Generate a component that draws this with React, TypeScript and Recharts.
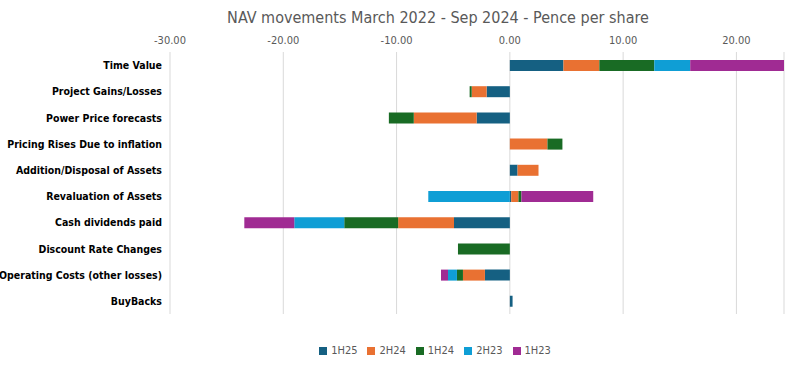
import React from "react";
import {
  BarChart,
  Bar,
  XAxis,
  YAxis,
  CartesianGrid,
  Legend,
} from "recharts";

const categories = [
  "Time Value",
  "Project Gains/Losses",
  "Power Price forecasts",
  "Pricing Rises Due to inflation",
  "Addition/Disposal of Assets",
  "Revaluation of Assets",
  "Cash dividends paid",
  "Discount Rate Changes",
  "Operating Costs (other losses)",
  "BuyBacks",
];

const h125 = [4.73, -2.05, -2.93, 0, 0.68, 0.12, -4.93, 0, -2.2, 0.24];
const h224 = [3.17, -1.32, -5.55, 3.32, 1.85, 0.64, -4.93, 0, -1.94, 0];
const h124 = [4.85, -0.18, -2.2, 1.32, 0, 0.26, -4.76, -4.58, -0.53, 0];
const h223 = [3.17, 0, 0, 0, 0, -7.2, -4.41, 0, -0.79, 0];
const h123 = [8.28, 0, 0, 0, 0, 6.34, -4.41, 0, -0.62, 0];

const xTicks = [-30, -20, -10, 0, 10, 20];

const series = [
  { key: "1H25", values: h125, color: "#156082" },
  { key: "2H24", values: h224, color: "#E97132" },
  { key: "1H24", values: h124, color: "#196B24" },
  { key: "2H23", values: h223, color: "#0F9ED5" },
  { key: "1H23", values: h123, color: "#A02B93" },
];
const order = series.map((s) => s.key);

const data = categories.map((name, i) => {
  const row: Record<string, string | number> = { name };
  series.forEach((s) => {
    row[s.key] = s.values[i];
  });
  return row;
});

const font = "'DejaVu Sans Condensed', 'Roboto', sans-serif";

// plain text tick so long labels stay on one line
const CategoryTick = (props: any) => {
  const { x, y, payload } = props;
  return (
    <text
      x={x}
      y={y}
      dy={4}
      textAnchor="end"
      fill="#000000"
      fontSize={10.5}
      fontWeight="bold"
      fontFamily={font}
    >
      {payload.value}
    </text>
  );
};

const App = () => {
  return (
    <div style={{ position: "absolute", left: 0, top: 0, width: 808, height: 367, fontFamily: font }}>
      <div
        style={{
          position: "absolute",
          left: 0,
          width: 876,
          top: 8,
          textAlign: "center",
          fontSize: 16,
          color: "#595959",
          zIndex: 2,
        }}
      >
        NAV movements March 2022 - Sep 2024 - Pence per share
      </div>
      <BarChart
        width={808}
        height={367}
        data={data}
        layout="vertical"
        stackOffset="sign"
        barSize={11}
        margin={{ top: 32, right: 24, bottom: 10, left: 0 }}
      >
        <CartesianGrid horizontal={false} stroke="#d9d9d9" />
        <XAxis
          type="number"
          orientation="top"
          domain={[-30, 24.2]}
          ticks={xTicks}
          tickFormatter={(v: number) => v.toFixed(2)}
          axisLine={false}
          tickLine={false}
          height={20}
          tick={{ fill: "#595959", fontSize: 11, fontFamily: font }}
          interval={0}
        />
        <YAxis
          type="category"
          dataKey="name"
          width={170}
          axisLine={false}
          tickLine={false}
          interval={0}
          tick={<CategoryTick />}
        />
        <Legend
          verticalAlign="bottom"
          iconType="square"
          iconSize={8}
          itemSorter={(item: any) => order.indexOf(item.value)}
          wrapperStyle={{ paddingTop: 30, left: 80, width: 720, fontSize: 11, fontFamily: font, color: "#595959" }}
          formatter={(value: string) => <span style={{ color: "#595959" }}>{value}</span>}
        />
        {series.map((s) => (
          <Bar
            key={s.key}
            dataKey={s.key}
            name={s.key}
            stackId="a"
            fill={s.color}
            isAnimationActive={false}
          />
        ))}
      </BarChart>
    </div>
  );
};

export default App;
